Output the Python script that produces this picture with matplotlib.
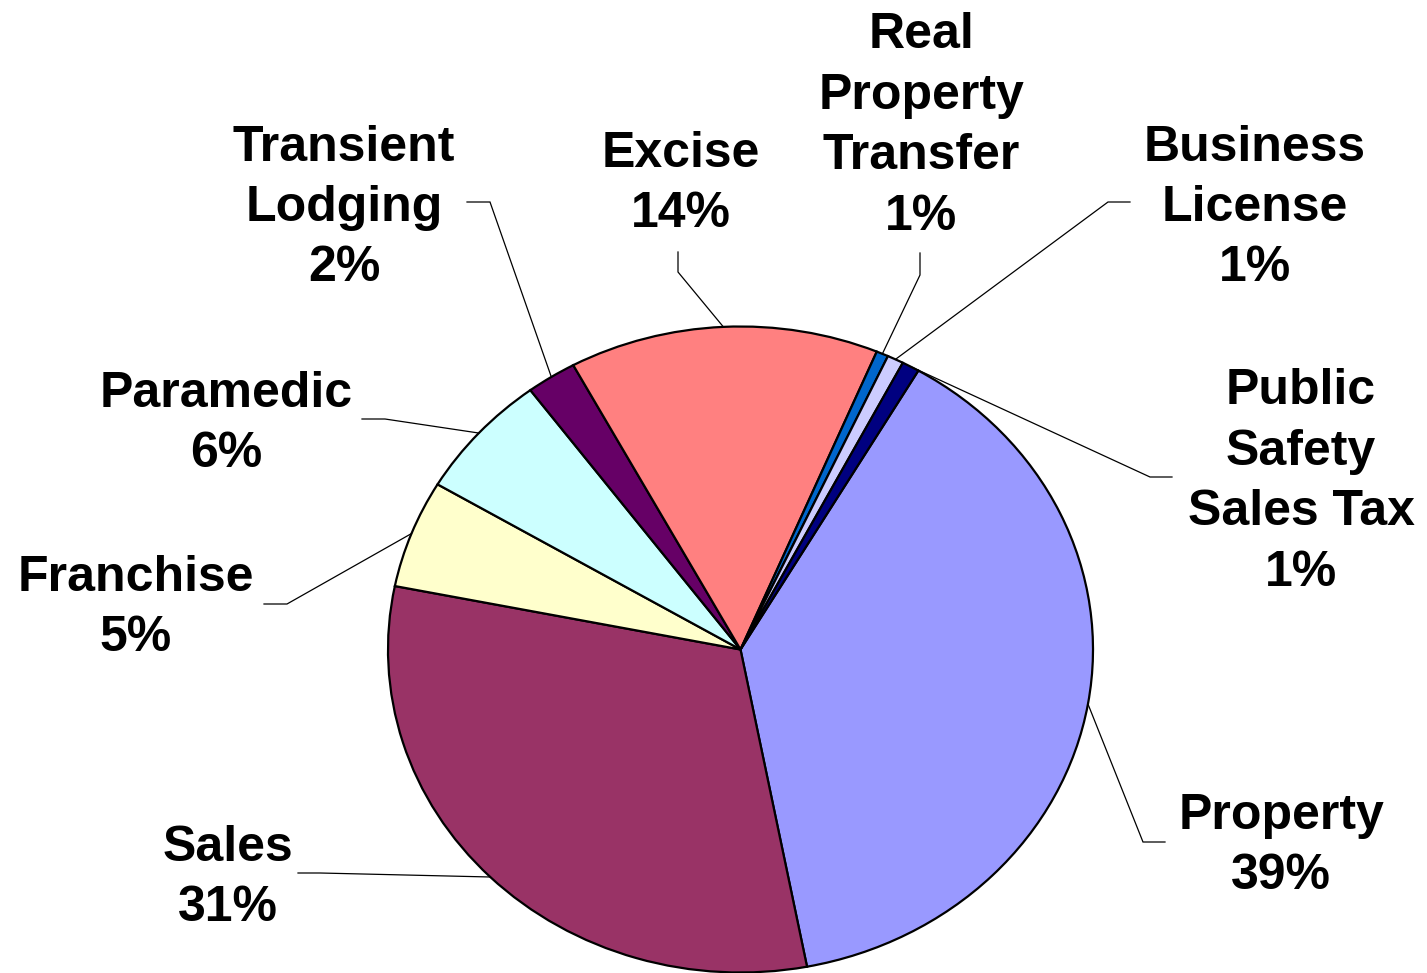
import numpy as np
import matplotlib.pyplot as plt

# ---------- data ----------
categories = ["Property", "Sales", "Franchise", "Paramedic", "Transient\nLodging",
              "Excise", "Real\nProperty\nTransfer", "Business\nLicense",
              "Public\nSafety\nSales Tax"]
shares = [38.6, 31.2, 5.4, 6.3, 2.3, 14.2, 0.55, 0.75, 0.8]
colors = ["#9999FF", "#993366", "#FFFFCC", "#CCFFFF", "#660066",
          "#FF8080", "#0066CC", "#CCCCFF", "#000080"]

# ---------- layout (pixels, origin top-left) ----------
W, H = 1427, 973
CX, CY = 740.5, 649.5        # pie centre
RX, RY = 352.5, 323.0        # the pie is a bit wider than tall
START = 90 - 30.3            # first slice starts 30 deg past 12 o'clock

label_xy = [(1281, 846), (228, 878), (136, 608), (226, 424), (344, 208),
            (681, 184), (921, 126), (1255, 208), (1301, 482)]
# leader line: stub start, elbow (then goes to the slice edge)
leader = [((1165, 842), (1143, 842)), ((298, 873), (320, 873)),
          ((264, 604), (287, 604)), ((362, 419), (385, 419)),
          ((467, 202), (490, 202)), ((678, 252), (678, 272)),
          ((920, 253), (920, 275)), ((1130, 202), (1108, 202)),
          ((1172, 477), (1150, 477))]


def to_data(px, py):
    return px / RX, (H - py) / RY


fig = plt.figure(figsize=(W / 100, H / 100), dpi=100)
ax = fig.add_axes([0, 0, 1, 1])

wedges, _ = ax.pie(shares, colors=colors, startangle=START, counterclock=False,
                   center=to_data(CX, CY), radius=1.0,
                   wedgeprops=dict(edgecolor="black", linewidth=1.6))
ax.set_aspect("auto")
ax.set_xlim(0, W / RX)
ax.set_ylim(0, H / RY)
ax.axis("off")

total = sum(shares)
cx, cy = to_data(CX, CY)
for w, name, val, (lx, ly), (p0, p1) in zip(wedges, categories, shares, label_xy, leader):
    mid = np.deg2rad((w.theta1 + w.theta2) / 2)
    ex, ey = cx + np.cos(mid), cy + np.sin(mid)
    xs = [to_data(*p0)[0], to_data(*p1)[0], ex]
    ys = [to_data(*p0)[1], to_data(*p1)[1], ey]
    ax.plot(xs, ys, color="black", lw=0.9, solid_joinstyle="miter")

    pct = f"{round(val / total * 100):.0f}%"
    tx, ty = to_data(lx, ly)
    ax.text(tx, ty, f"{name}\n{pct}", ha="center", va="center",
            multialignment="center", fontsize=36, fontweight="bold",
            family="Liberation Sans", linespacing=1.4)

fig.savefig("out.png", dpi=100)
